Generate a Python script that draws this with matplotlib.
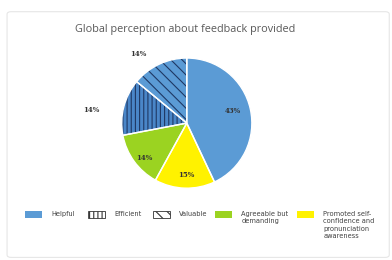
import numpy as np
import matplotlib.pyplot as plt
from matplotlib.patches import FancyBboxPatch, Patch

# slices in drawing order (clockwise from top)
slice_labels = ['Helpful', 'Promoted self-\nconfidence and\npronunciation\nawareness',
                'Agreeable but\ndemanding', 'Efficient', 'Valuable']
slice_values = [43, 15, 14, 14, 14]
slice_colors = ['#5B9BD5', '#FFF200', '#9BD321', '#4A86C8', '#5B9BD5']
slice_hatch = [None, None, None, '||||', '\\\\\\']

# legend order as in the original
legend_order = [0, 3, 4, 2, 1]
legend_face = ['#5B9BD5', '#FFF200', '#9BD321', 'white', 'white']

plt.rcParams['hatch.linewidth'] = 0.8

fig = plt.figure(figsize=(3.92, 2.60), dpi=100)
fig.patch.set_facecolor('white')

# light frame around the chart
frame = FancyBboxPatch((0.018, 0.01), 0.975, 0.945, boxstyle='round,pad=0,rounding_size=0.01',
                       transform=fig.transFigure, facecolor='white', edgecolor='#E6E6E6',
                       lw=0.8, zorder=-5)
fig.patches.append(frame)

fig.text(0.472, 0.885, 'Global perception about feedback provided', ha='center', va='center',
         fontsize=7.8, color='#595959', family='Open Sans')

ax = fig.add_axes([0.269, 0.213, 0.415, 0.627])
wedges, _ = ax.pie(slice_values, colors=slice_colors, startangle=90, counterclock=False,
                   wedgeprops=dict(linewidth=0))
for w, h in zip(wedges, slice_hatch):
    if h:
        w.set_hatch(h)
        w.set_edgecolor('#1F3864')
# white borders between slices
ax.pie(slice_values, startangle=90, counterclock=False,
       wedgeprops=dict(fill=False, edgecolor='white', linewidth=1.0))
ax.set_aspect('equal')

# percentage labels
lbl_pos = [(0.71, 0.18), (0.0, -0.80), (-0.65, -0.54), (-1.46, 0.20), (-0.75, 1.06)]
for (x, y), v in zip(lbl_pos, slice_values):
    ax.text(x, y, f'{v}%', ha='center', va='center', fontsize=5, fontweight='bold',
            color='#333333', family='DejaVu Serif')

# one legend entry per box, placed like the original
leg_x = [25, 88, 153, 215, 297]
for i, x in zip(legend_order, leg_x):
    h = Patch(facecolor=legend_face[i], edgecolor='#333333' if slice_hatch[i] else legend_face[i],
              hatch=slice_hatch[i], lw=0.6 if slice_hatch[i] else 0)
    leg = fig.legend([h], [slice_labels[i]], loc='upper left',
                     bbox_to_anchor=(x / 392, 1 - 211 / 260), frameon=False, borderpad=0,
                     fontsize=4.8, handlelength=2.55, handleheight=1.35, handletextpad=1.4,
                     borderaxespad=0)
    for t in leg.get_texts():
        t.set_color('#404040')
        t.set_linespacing(1.25)
    for col in leg._legend_handle_box.get_children():
        for row in col.get_children():
            row.align = 'top'

fig.savefig('out.png', dpi=100)
